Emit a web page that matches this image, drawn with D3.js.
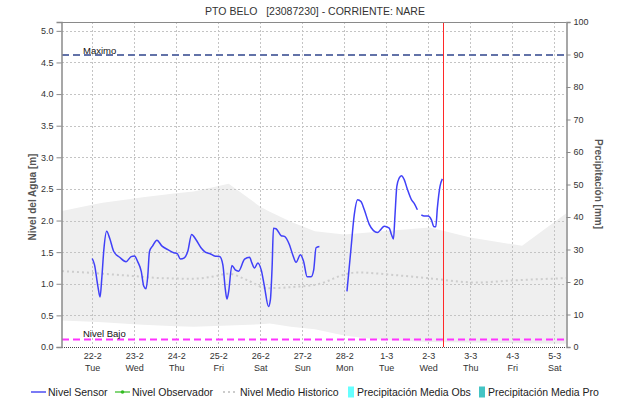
<!DOCTYPE html>
<html>
<head>
<meta charset="utf-8">
<script src="https://cdn.jsdelivr.net/npm/d3@7"></script>
<style>
  html, body { margin: 0; padding: 0; background: #fff; }
  svg { display: block; font-family: "Liberation Sans", Arial, sans-serif; }
</style>
</head>
<body>
<svg id="chart" width="618" height="403"></svg>
<script>
// ---- Station and axes ----
const chartTitle = "PTO BELO   [23087230] - CORRIENTE: NARE";
const levelAxisTitle = "Nivel del Agua [m]";
const rainAxisTitle = "Precipitación [mm]";

const dayTicks = ["2022-02-22","2022-02-23","2022-02-24","2022-02-25","2022-02-26","2022-02-27",
                  "2022-02-28","2022-03-01","2022-03-02","2022-03-03","2022-03-04","2022-03-05"];
const dayLabels = ["22-2","23-2","24-2","25-2","26-2","27-2","28-2","1-3","2-3","3-3","4-3","5-3"];
const weekdayLabels = ["Tue","Wed","Thu","Fri","Sat","Sun","Mon","Tue","Wed","Thu","Fri","Sat"];
const levelTicks = [0, 0.5, 1, 1.5, 2, 2.5, 3, 3.5, 4, 4.5, 5];
const rainTicks = [0, 10, 20, 30, 40, 50, 60, 70, 80, 90, 100];
const timeWindow = ["2022-02-21 06:45", "2022-03-05 06:45"];
const nowTime = "2022-03-02 08:40";

// ---- Reference levels ----
const maxLevel = 4.62;
const maxLabel = "Maximo";
const lowLevel = 0.12;
const lowLabel = "Nivel Bajo";

// ---- Sensor water level (null marks a gap in transmission) ----
const sensorTime = [
  "2022-02-22 00:00","2022-02-22 01:20","2022-02-22 03:15","2022-02-22 04:30","2022-02-22 05:30",
  "2022-02-22 06:40","2022-02-22 08:15","2022-02-22 10:00","2022-02-22 12:20","2022-02-22 15:40",
  "2022-02-22 19:20","2022-02-22 22:15","2022-02-23 00:10","2022-02-23 02:00","2022-02-23 04:00",
  "2022-02-23 05:30","2022-02-23 06:45","2022-02-23 07:45","2022-02-23 08:45","2022-02-23 10:35",
  "2022-02-23 13:00","2022-02-23 15:45","2022-02-23 19:10","2022-02-23 22:35","2022-02-24 00:30",
  "2022-02-24 02:25","2022-02-24 04:40","2022-02-24 06:35","2022-02-24 08:50","2022-02-24 11:15",
  "2022-02-24 14:10","2022-02-24 16:15","2022-02-24 17:35","2022-02-24 19:05","2022-02-24 21:55",
  "2022-02-25 00:50","2022-02-25 02:40","2022-02-25 04:05","2022-02-25 05:00","2022-02-25 06:00",
  "2022-02-25 07:50","2022-02-25 09:45","2022-02-25 11:40","2022-02-25 15:05","2022-02-25 17:55",
  "2022-02-25 19:15","2022-02-25 20:45","2022-02-25 22:40","2022-02-26 00:35","2022-02-26 02:25",
  "2022-02-26 04:45","2022-02-26 05:50","2022-02-26 06:50","2022-02-26 07:35","2022-02-26 09:05",
  "2022-02-26 12:00","2022-02-26 13:50","2022-02-26 16:40","2022-02-26 18:35","2022-02-26 20:30",
  "2022-02-26 23:00","2022-02-27 00:50","2022-02-27 02:50","2022-02-27 05:05","2022-02-27 06:35",
  "2022-02-27 07:55","2022-02-27 09:50","2022-02-27 18:00",
  "2022-02-28 01:35","2022-02-28 03:50","2022-02-28 05:45","2022-02-28 07:40","2022-02-28 09:35",
  "2022-02-28 11:30","2022-02-28 14:20","2022-02-28 16:45","2022-02-28 19:00","2022-02-28 21:00",
  "2022-02-28 22:50","2022-03-01 01:45","2022-03-01 03:00","2022-03-01 04:10","2022-03-01 05:00",
  "2022-03-01 06:05","2022-03-01 07:25","2022-03-01 08:45","2022-03-01 10:15","2022-03-01 12:10",
  "2022-03-01 14:25","2022-03-01 16:00","2022-03-01 17:50","2022-03-01 19:00",
  "2022-03-01 20:05","2022-03-01 21:40","2022-03-01 23:55","2022-03-02 01:50","2022-03-02 03:20",
  "2022-03-02 04:20","2022-03-02 05:15","2022-03-02 06:45","2022-03-02 08:05"
];
const sensorLevel = [
  1.40,1.30,0.96,0.79,1.09,
  1.54,1.83,1.72,1.51,1.42,
  1.35,1.43,1.44,1.35,1.20,
  0.96,0.92,1.12,1.51,1.60,
  1.69,1.60,1.54,1.49,1.48,
  1.39,1.41,1.51,1.78,1.70,
  1.57,1.51,1.49,1.48,1.44,
  1.43,1.30,0.91,0.76,0.88,
  1.29,1.22,1.20,1.39,1.42,
  1.33,1.25,1.33,1.22,0.96,
  0.64,0.75,1.28,1.88,1.87,
  1.76,1.75,1.62,1.46,1.34,
  1.46,1.35,1.11,1.11,1.22,
  1.57,1.59,null,
  0.88,1.54,2.09,2.33,2.30,
  2.17,1.94,1.84,1.81,1.86,
  1.91,1.88,1.78,1.71,2.07,
  2.54,2.67,2.71,2.65,2.49,
  2.33,2.27,2.17,null,
  2.09,2.07,2.07,2.01,1.90,
  1.90,2.20,2.54,2.66
];

// ---- Historical envelope (min / max) ----
const histRangeTime = [
  "2022-02-21 06:45","2022-02-22 00:00","2022-02-22 06:00","2022-02-23 00:00","2022-02-23 05:00",
  "2022-02-24 00:00","2022-02-24 10:00","2022-02-25 06:00","2022-02-26 00:00","2022-02-26 05:30",
  "2022-02-26 17:30","2022-02-27 07:15","2022-02-28 00:00","2022-02-28 09:00","2022-02-28 22:00",
  "2022-03-02 01:00","2022-03-03 00:00","2022-03-04 05:40","2022-03-05 06:45"
];
const histMax = [2.15,2.25,2.28,2.35,2.37,2.43,2.46,2.58,2.22,2.14,1.98,1.83,1.78,1.80,1.83,1.89,1.73,1.60,2.11];
const histMin = [0.42,0.40,0.39,0.36,0.35,0.33,0.32,0.34,0.36,0.37,0.32,0.28,0.18,0.15,0.11,0.08,0.07,0.06,0.05];

// ---- Historical mean level ----
const histMeanTime = [
  "2022-02-21 06:45","2022-02-22 00:30","2022-02-22 20:00","2022-02-23 14:45","2022-02-24 09:35",
  "2022-02-24 22:10","2022-02-25 05:35","2022-02-25 16:25","2022-02-26 03:55","2022-02-26 18:50",
  "2022-02-27 10:10","2022-02-27 14:10","2022-02-27 23:20","2022-02-28 07:20","2022-03-01 03:50",
  "2022-03-01 23:20","2022-03-03 03:55","2022-03-03 22:45","2022-03-05 06:45"
];
const histMean = [1.20,1.17,1.13,1.09,1.08,1.12,1.16,1.06,0.93,0.95,1.00,1.04,1.14,1.18,1.14,1.09,1.02,1.05,1.09];

// ---- Legend ----
const legendItems = [
  { label: "Nivel Sensor", kind: "line", color: "#2222ee" },
  { label: "Nivel Observador", kind: "marker", color: "#33bb22" },
  { label: "Nivel Medio Historico", kind: "dots", color: "#cccccc" },
  { label: "Precipitación Media Obs", kind: "box", color: "#66ffff" },
  { label: "Precipitación Media Pro", kind: "box", color: "#44c4c4" }
];

// ---- Drawing ----
const parseTime = d3.utcParse("%Y-%m-%d %H:%M");
const parseDay = d3.utcParse("%Y-%m-%d");
const svg = d3.select("#chart");
const plot = { left: 62, right: 566, top: 22, bottom: 347 };

const x = d3.scaleUtc().domain(timeWindow.map(parseTime)).range([plot.left, plot.right]);
const yLevel = d3.scaleLinear().domain([0, 5.14]).range([plot.bottom, plot.top]);
const yRain = d3.scaleLinear().domain([0, 100]).range([plot.bottom, plot.top]);

const gridColor = "#c4c4c4";
const axisColor = "#8a8a8a";
const textColor = "#333";

// historical envelope
const bandRows = histRangeTime.map((t, i) => ({ t: parseTime(t), lo: histMin[i], hi: histMax[i] }));
svg.append("path")
  .datum(bandRows)
  .attr("fill", "#efefef")
  .attr("d", d3.area().x(d => x(d.t)).y0(d => yLevel(d.lo)).y1(d => yLevel(d.hi)));

// grid
const gridG = svg.append("g").attr("shape-rendering", "crispEdges");
gridG.selectAll("line.h").data(levelTicks.filter(v => v > 0)).join("line")
  .attr("class", "h")
  .attr("x1", plot.left).attr("x2", plot.right)
  .attr("y1", d => Math.round(yLevel(d)) + 0.5).attr("y2", d => Math.round(yLevel(d)) + 0.5)
  .attr("stroke", gridColor).attr("stroke-dasharray", "2,2");
gridG.selectAll("line.v").data(dayTicks).join("line")
  .attr("class", "v")
  .attr("x1", d => Math.round(x(parseDay(d))) + 0.5).attr("x2", d => Math.round(x(parseDay(d))) + 0.5)
  .attr("y1", plot.top).attr("y2", plot.bottom)
  .attr("stroke", gridColor).attr("stroke-dasharray", "2,2");

// historical mean
const meanRows = histMeanTime.map((t, i) => ({ t: parseTime(t), v: histMean[i] }));
svg.append("path")
  .datum(meanRows)
  .attr("fill", "none").attr("stroke", "#cdcdcd").attr("stroke-width", 2)
  .attr("stroke-dasharray", "2,3")
  .attr("d", d3.line().x(d => x(d.t)).y(d => yLevel(d.v)).curve(d3.curveMonotoneX));

// reference levels
svg.append("line")
  .attr("x1", plot.left).attr("x2", plot.right)
  .attr("y1", yLevel(maxLevel)).attr("y2", yLevel(maxLevel))
  .attr("stroke", "#6272a8").attr("stroke-width", 2).attr("stroke-dasharray", "7,4");
svg.append("line")
  .attr("x1", plot.left).attr("x2", plot.right)
  .attr("y1", yLevel(lowLevel)).attr("y2", yLevel(lowLevel))
  .attr("stroke", "#ff33ff").attr("stroke-width", 2).attr("stroke-dasharray", "7,4");
svg.append("text").attr("x", 83).attr("y", yLevel(maxLevel) - 1)
  .attr("font-size", 9.5).attr("fill", "#111").text(maxLabel);
svg.append("text").attr("x", 83).attr("y", yLevel(lowLevel) - 2.5)
  .attr("font-size", 9.5).attr("fill", "#111").text(lowLabel);

// sensor level
const sensorRows = sensorTime.map((t, i) => ({ t: parseTime(t), v: sensorLevel[i] }));
svg.append("path")
  .datum(sensorRows)
  .attr("fill", "none").attr("stroke", "#4040f8").attr("stroke-width", 1.5)
  .attr("stroke-linejoin", "round")
  .attr("d", d3.line().defined(d => d.v !== null).x(d => x(d.t)).y(d => yLevel(d.v)).curve(d3.curveMonotoneX));

// current time marker
const nowX = Math.round(x(parseTime(nowTime))) + 0.5;
svg.append("line")
  .attr("x1", nowX).attr("x2", nowX)
  .attr("y1", plot.top).attr("y2", plot.bottom)
  .attr("shape-rendering", "crispEdges")
  .style("stroke", "rgb(255,40,40)").style("stroke-width", "1.2px");

// frame
svg.append("line").attr("x1", plot.left).attr("x2", plot.right).attr("y1", plot.top + 0.5).attr("y2", plot.top + 0.5)
  .attr("stroke", axisColor);
svg.append("line").attr("x1", plot.left).attr("x2", plot.right).attr("y1", plot.bottom + 0.5).attr("y2", plot.bottom + 0.5)
  .attr("stroke", "#444").attr("stroke-dasharray", "1,1");

// left axis
const leftAxis = svg.append("g").attr("transform", `translate(${plot.left - 0.5},0)`)
  .call(d3.axisLeft(yLevel).tickValues(levelTicks).tickFormat(d3.format(".1f")).tickSize(5).tickPadding(3));
// right axis
const rightAxis = svg.append("g").attr("transform", `translate(${plot.right + 0.5},0)`)
  .call(d3.axisRight(yRain).tickValues(rainTicks).tickSize(4).tickPadding(3));
[leftAxis, rightAxis].forEach(g => {
  g.select(".domain").attr("stroke", axisColor).attr("stroke-width", 1.5);
  g.selectAll(".tick line").attr("stroke", axisColor);
  g.selectAll(".tick text").attr("fill", textColor).attr("font-size", 9)
    .attr("font-family", "'Liberation Sans', Arial, sans-serif");
});

// bottom day labels
const bottomAxis = svg.append("g").attr("transform", `translate(0,${plot.bottom})`)
  .call(d3.axisBottom(x).tickValues(dayTicks.map(parseDay)).tickSize(0).tickFormat(""));
bottomAxis.select(".domain").remove();
bottomAxis.selectAll(".tick").each(function (d, i) {
  const t = d3.select(this).select("text")
    .attr("fill", textColor).attr("font-size", 9)
    .attr("font-family", "'Liberation Sans', Arial, sans-serif")
    .attr("y", 0).attr("dy", null);
  t.append("tspan").attr("x", 0).attr("y", 12).text(dayLabels[i]);
  t.append("tspan").attr("x", 0).attr("y", 24).text(weekdayLabels[i]);
});

// titles
svg.append("text").attr("x", 315).attr("y", 15).attr("text-anchor", "middle")
  .attr("font-size", 10.5).attr("fill", textColor).style("white-space", "pre").text(chartTitle);
svg.append("text").attr("transform", `translate(36,197) rotate(-90)`).attr("text-anchor", "middle")
  .attr("font-size", 10).attr("font-weight", "bold").attr("fill", "#555").text(levelAxisTitle);
svg.append("text").attr("transform", `translate(595,184) rotate(90)`).attr("text-anchor", "middle")
  .attr("font-size", 10).attr("font-weight", "bold").attr("fill", "#555").text(rainAxisTitle);

// legend
const legendX = [31, 115, 223, 348, 479];
const legend = svg.append("g").attr("transform", "translate(0,392)");
legendItems.forEach((item, i) => {
  const g = legend.append("g").attr("transform", `translate(${legendX[i]},0)`);
  let textX = 17;
  if (item.kind === "line") {
    g.append("line").attr("x1", 0).attr("x2", 15).attr("stroke", item.color).attr("stroke-width", 1.2);
  } else if (item.kind === "marker") {
    g.append("line").attr("x1", 0).attr("x2", 15).attr("stroke", item.color).attr("stroke-width", 1.2);
    g.append("circle").attr("cx", 7.5).attr("r", 1.8).attr("fill", item.color);
  } else if (item.kind === "dots") {
    g.append("line").attr("x1", 0).attr("x2", 15).attr("stroke", item.color).attr("stroke-width", 2)
      .attr("stroke-dasharray", "2,3");
  } else {
    g.append("rect").attr("x", 0).attr("y", -5.5).attr("width", 6).attr("height", 11).attr("fill", item.color);
    textX = 9;
  }
  g.append("text").attr("x", textX).attr("y", 4).attr("font-size", 10.5).attr("fill", "#222").text(item.label);
});
</script>
</body>
</html>
